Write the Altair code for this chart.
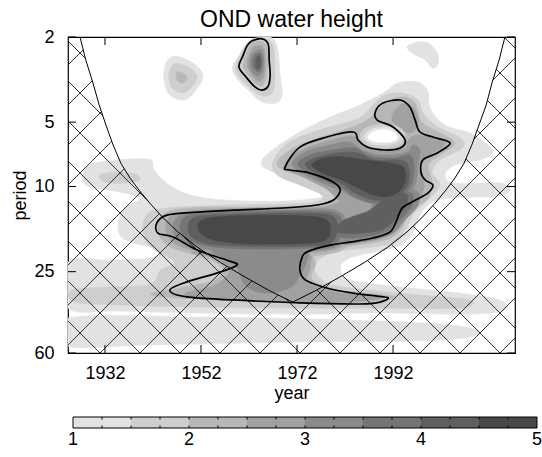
import numpy as np
import pandas as pd
import altair as alt

FONT = "Liberation Sans"
W, H = 447, 316
YEAR_MIN, YEAR_MAX = 1924.3, 2017.4
PER_MIN, PER_MAX = 2, 60

year_ticks = [1932, 1952, 1972, 1992]
period_ticks = [2, 5, 10, 25, 60]
cbar_labels = [1, 2, 3, 4, 5]
cbar_bounds = [1, 1.5, 2, 2.5, 3, 3.5, 4, 4.5, 5]
greys = ["#e2e2e2", "#cecece", "#b7b7b7", "#a1a1a1", "#8b8b8b", "#757575", "#5f5f5f", "#484848"]

# ---- filled power contours, vertices as (year, period) ----
main_l1 = [(1927.4, 8.83), (1929.9, 7.77), (1940.8, 7.44), (1942.2, 8.37), (1945.1, 9.73), (1950.1, 11.0),
           (1958.0, 11.6), (1968.5, 11.7), (1976.4, 11.3), (1978.2, 10.7), (1975.8, 9.94), (1970.5, 9.12),
           (1965.3, 8.19), (1964.7, 7.52), (1967.4, 6.61), (1972.6, 5.56), (1978.9, 4.73), (1985.1, 4.16),
           (1990.3, 3.61), (1993.0, 3.28), (1997.2, 3.25), (1999.3, 3.61), (1999.7, 4.29), (2002.8, 5.16),
           (2008.0, 5.62), (2011.2, 6.26), (2012.8, 6.90), (2010.1, 7.52), (2004.9, 7.93), (2002.8, 8.83),
           (2004.9, 9.63), (2014.3, 9.63), (2016.4, 10.4), (2013.3, 11.1), (2003.9, 11.3), (1999.7, 12.0),
           (1997.6, 13.6), (1996.2, 16.3), (1993.5, 18.8), (1988.3, 20.2), (1983.0, 21.6), (1981.0, 24.0),
           (1983.0, 27.3), (1993.5, 29.5), (2006.0, 31.5), (2014.3, 33.9), (2015.3, 37.8), (2008.0, 39.5),
           (1989.3, 39.0), (1972.6, 39.5), (1951.8, 39.0), (1935.1, 38.2), (1924.3, 37.0), (1924.3, 22.6),
           (1933.0, 22.1), (1941.4, 21.6), (1943.5, 19.8), (1936.2, 17.8), (1934.7, 15.1), (1936.2, 12.6),
           (1939.3, 11.3), (1933.0, 10.4), (1928.3, 9.94)]
bottom_l1 = [(1924.3, 41.2), (1951.8, 40.8), (1983.0, 42.1), (2003.9, 44.4), (2010.1, 48.4), (2001.8, 52.2),
             (1972.6, 53.3), (1941.4, 55.0), (1924.3, 55.6)]
blob_a_l1 = [(1946.6, 2.46), (1950.1, 2.62), (1952.4, 3.01), (1951.0, 3.54), (1948.5, 3.94), (1945.5, 3.73),
             (1944.3, 3.18), (1944.7, 2.65)]
blob_b_l1 = [(1963.9, 2.02), (1966.8, 2.02), (1968.0, 2.30), (1968.5, 3.01), (1968.9, 3.73), (1967.6, 4.07),
             (1964.7, 4.02), (1962.2, 3.61), (1959.7, 3.18), (1958.5, 2.79), (1960.1, 2.43), (1962.2, 2.16)]
blob_c_l1 = [(1994.9, 2.23), (1997.2, 2.11), (1999.7, 2.16), (2001.4, 2.43), (2001.2, 2.73), (2000.1, 2.79),
             (1998.7, 2.56), (1996.6, 2.43)]

main_l2 = [(1966.8, 7.93), (1969.5, 6.40), (1974.7, 5.62), (1981.0, 5.10), (1985.1, 4.78), (1987.2, 4.29),
           (1989.9, 3.77), (1993.9, 3.65), (1997.2, 3.94), (1998.5, 4.63), (2001.8, 5.33), (2006.0, 5.93),
           (2006.4, 6.61), (2001.8, 7.52), (2000.1, 8.56), (2001.8, 9.84), (1999.7, 11.3), (1996.6, 13.2),
           (1994.5, 16.0), (1992.4, 18.2), (1986.2, 19.4), (1979.9, 20.2), (1976.4, 22.1), (1975.8, 25.1),
           (1978.9, 28.6), (1987.2, 30.5), (1997.6, 32.1), (2008.0, 33.9), (2006.0, 37.0), (1989.3, 37.0),
           (1972.6, 37.0), (1951.8, 36.6), (1935.1, 35.8), (1925.7, 34.7), (1925.1, 30.5), (1933.0, 29.5),
           (1941.4, 28.6), (1943.5, 24.6), (1946.6, 22.6), (1942.4, 19.8), (1940.3, 17.8), (1939.9, 15.1),
           (1941.4, 13.1), (1946.6, 12.5), (1958.0, 12.2), (1968.5, 12.1), (1975.8, 11.8), (1977.2, 11.0),
           (1972.6, 9.84), (1968.5, 9.03)]
left_l2 = [(1930.9, 8.83), (1934.1, 8.56), (1938.2, 8.74), (1939.3, 9.32), (1936.2, 9.63), (1932.0, 9.52)]
blob_a_l2 = [(1946.8, 2.65), (1949.7, 2.79), (1951.2, 3.08), (1949.9, 3.46), (1948.0, 3.65), (1946.0, 3.46),
             (1945.3, 3.04), (1945.8, 2.76)]
blob_b_l2 = [(1962.2, 2.07), (1965.3, 2.02), (1967.0, 2.20), (1967.4, 2.85), (1967.0, 3.61), (1964.7, 3.77),
             (1962.2, 3.46), (1959.3, 2.91), (1960.1, 2.43)]

upper_l3 = [(1968.0, 8.02), (1970.5, 6.75), (1976.4, 5.93), (1983.0, 5.33), (1987.2, 4.78), (1990.3, 4.07),
            (1993.9, 3.81), (1996.6, 4.07), (1998.0, 5.00), (2001.8, 5.62), (2004.9, 6.26), (2001.8, 7.12),
            (1999.3, 7.93), (2000.1, 9.52), (1999.3, 11.3), (1995.5, 13.2), (1993.5, 16.0), (1990.3, 17.8),
            (1983.0, 19.0), (1978.9, 19.4), (1976.8, 16.0), (1979.9, 12.2), (1978.9, 10.6), (1974.7, 9.32)]
band_l3 = [(1943.0, 16.0), (1944.1, 13.5), (1949.7, 12.6), (1964.3, 12.5), (1975.8, 12.2), (1979.9, 11.6),
           (1983.0, 13.6), (1982.5, 18.8), (1976.8, 20.9), (1964.3, 21.4), (1951.8, 20.9), (1945.1, 18.8)]
lower_l3 = [(1947.6, 19.4), (1958.0, 19.8), (1972.6, 19.8), (1975.8, 22.6), (1975.1, 27.3), (1981.0, 30.5),
            (1992.4, 32.8), (1983.0, 35.0), (1962.2, 34.3), (1947.6, 33.2), (1941.4, 31.8), (1947.6, 29.8),
            (1954.9, 27.3), (1956.0, 23.3)]
blob_a_l3 = [(1947.0, 2.91), (1948.5, 2.98), (1949.1, 3.14), (1948.0, 3.28), (1947.0, 3.18)]
blob_b_l3 = [(1962.8, 2.13), (1964.9, 2.11), (1965.8, 2.30), (1965.8, 2.85), (1965.1, 3.32), (1963.7, 3.35),
             (1962.0, 3.04), (1960.8, 2.73), (1961.6, 2.35)]

upper_l4 = [(1969.5, 8.02), (1972.2, 6.90), (1977.8, 6.19), (1983.5, 5.80), (1985.5, 6.26), (1989.3, 6.75),
            (1994.5, 6.61), (1995.1, 6.06), (1997.6, 5.74), (2002.8, 6.26), (1999.7, 7.12), (1997.6, 7.93),
            (1998.5, 9.84), (1997.2, 11.6), (1994.5, 13.6), (1992.4, 16.3), (1987.2, 17.8), (1981.0, 18.6),
            (1979.9, 15.1), (1981.0, 12.2), (1978.5, 10.4), (1973.7, 9.12)]
band_l4 = [(1944.7, 16.0), (1946.0, 13.6), (1951.8, 12.9), (1964.3, 12.6), (1976.8, 12.5), (1981.0, 12.0),
           (1982.5, 14.3), (1982.0, 18.4), (1976.8, 20.2), (1964.3, 20.7), (1952.8, 20.2), (1946.8, 18.6)]
lobe_l4 = [(1992.4, 4.39), (1994.5, 4.07), (1996.6, 4.39), (1997.2, 5.16), (1995.5, 5.62), (1993.5, 5.33),
           (1991.8, 4.89)]
lower_l4 = [(1950.8, 20.2), (1972.6, 20.2), (1974.7, 23.3), (1974.3, 27.9), (1979.9, 31.1), (1989.3, 33.2),
            (1978.9, 35.0), (1962.2, 34.3), (1951.8, 33.2), (1948.7, 31.5), (1954.9, 28.9), (1958.0, 24.6),
            (1954.9, 21.6)]
blob_b_l4 = [(1963.0, 2.23), (1964.7, 2.20), (1965.3, 2.43), (1965.3, 2.85), (1964.7, 3.18), (1963.5, 3.18),
             (1962.2, 2.91), (1961.6, 2.65), (1962.2, 2.38)]

upper_l5 = [(1971.0, 7.93), (1973.7, 6.90), (1978.9, 6.40), (1983.0, 6.19), (1985.5, 6.75), (1989.3, 7.12),
            (1994.5, 6.97), (1996.2, 6.40), (1997.6, 6.75), (1997.2, 7.93), (1996.6, 9.84), (1994.5, 11.6),
            (1990.3, 12.2), (1985.1, 11.6), (1981.0, 10.4), (1975.8, 9.32)]
band_l5 = [(1946.2, 15.6), (1948.0, 13.6), (1956.0, 13.0), (1968.5, 12.9), (1979.3, 12.8), (1982.2, 14.6),
           (1981.0, 18.4), (1976.8, 19.8), (1966.4, 20.2), (1956.0, 20.0), (1948.2, 18.4)]
link_l5 = [(1989.3, 11.0), (1996.6, 10.4), (1997.2, 12.2), (1994.5, 14.3), (1991.4, 16.8), (1985.1, 18.2),
           (1978.9, 18.2), (1979.9, 15.1), (1986.2, 13.6)]
lower_l5 = [(1954.9, 19.8), (1972.6, 19.8), (1973.9, 22.6), (1972.6, 25.9), (1970.5, 29.8), (1965.3, 31.5),
            (1961.2, 28.9), (1959.1, 23.3)]
blob_b_l5 = [(1963.3, 2.33), (1964.5, 2.30), (1965.1, 2.51), (1964.9, 2.85), (1964.1, 3.04), (1963.0, 2.98),
             (1962.2, 2.73), (1962.4, 2.48)]

upper_l6 = [(1972.2, 7.93), (1974.7, 7.12), (1979.5, 6.75), (1984.1, 6.61), (1987.2, 7.20), (1992.4, 7.36),
            (1995.5, 7.12), (1996.4, 8.19), (1995.5, 10.16), (1992.4, 11.6), (1988.3, 12.0), (1984.1, 11.2),
            (1981.0, 10.05), (1976.4, 9.12)]
band_l6 = [(1947.6, 15.6), (1949.3, 13.7), (1957.0, 13.2), (1968.5, 13.0), (1979.3, 13.2), (1981.4, 15.1),
           (1979.9, 18.6), (1974.7, 19.4), (1964.3, 19.6), (1954.9, 19.2), (1949.3, 17.8)]
link_l6 = [(1990.3, 11.0), (1995.5, 10.6), (1996.0, 12.2), (1993.5, 14.3), (1990.3, 16.3), (1984.1, 17.4),
           (1979.9, 16.8), (1981.0, 14.6), (1986.8, 13.2)]
blob_b_l6 = [(1963.5, 2.40), (1964.5, 2.40), (1964.7, 2.62), (1964.5, 2.85), (1963.7, 2.91), (1962.8, 2.73),
             (1962.8, 2.53)]

upper_l7 = [(1973.7, 7.93), (1976.4, 7.28), (1980.5, 6.97), (1984.7, 6.97), (1988.3, 7.52), (1993.0, 7.52),
            (1995.1, 7.93), (1995.1, 9.84), (1992.4, 11.2), (1988.3, 11.6), (1984.1, 10.7), (1981.0, 9.63),
            (1977.2, 8.93)]
band_l7 = [(1949.3, 15.6), (1950.8, 13.9), (1958.0, 13.5), (1970.5, 13.3), (1978.9, 13.6), (1980.3, 15.6),
           (1978.9, 18.4), (1972.6, 19.0), (1962.2, 19.0), (1953.9, 18.6), (1950.3, 17.4)]
link_l7 = [(1991.0, 11.1), (1994.7, 10.8), (1994.7, 12.3), (1992.4, 14.3), (1989.3, 16.0), (1983.0, 16.6),
           (1979.9, 16.0), (1982.0, 14.3), (1987.2, 12.9)]
blob_b_l7 = [(1963.7, 2.48), (1964.3, 2.48), (1964.5, 2.67), (1964.1, 2.82), (1963.5, 2.79), (1963.3, 2.62)]

upper_l8 = [(1975.1, 7.93), (1977.8, 7.36), (1982.0, 7.28), (1986.2, 7.52), (1991.4, 7.77), (1994.3, 8.19),
            (1994.3, 9.84), (1991.8, 11.0), (1988.3, 11.0), (1984.7, 10.16), (1981.4, 9.32), (1977.8, 8.74)]
band_l8 = [(1951.4, 15.6), (1952.8, 14.2), (1960.1, 13.7), (1972.6, 13.7), (1977.8, 14.2), (1978.9, 16.0),
           (1977.2, 18.0), (1968.5, 18.6), (1959.1, 18.4), (1953.3, 17.4)]

# low-power pocket inside the upper cluster
pocket_l2 = [(1985.1, 5.74), (1986.8, 5.27), (1990.3, 5.10), (1993.5, 5.33), (1994.5, 5.87), (1993.0, 6.47),
             (1989.3, 6.61), (1986.2, 6.33)]
pocket_l1 = [(1986.0, 5.80), (1987.6, 5.38), (1990.5, 5.27), (1993.0, 5.50), (1993.7, 5.87), (1992.4, 6.26),
             (1989.3, 6.40), (1986.8, 6.19)]
pocket_l0 = [(1986.8, 5.80), (1988.3, 5.50), (1991.0, 5.44), (1992.6, 5.68), (1992.8, 5.99), (1991.4, 6.19),
             (1988.9, 6.19), (1987.2, 6.06)]

fills = [
    (main_l1, 1), (bottom_l1, 1), (blob_a_l1, 1), (blob_b_l1, 1), (blob_c_l1, 1),
    (main_l2, 2), (left_l2, 2), (blob_a_l2, 2), (blob_b_l2, 2),
    (upper_l3, 3), (band_l3, 3), (lower_l3, 3), (blob_a_l3, 3), (blob_b_l3, 3),
    (upper_l4, 4), (band_l4, 4), (lobe_l4, 4), (lower_l4, 4), (blob_b_l4, 4),
    (upper_l5, 5), (band_l5, 5), (link_l5, 5), (lower_l5, 5), (blob_b_l5, 5),
    (upper_l6, 6), (band_l6, 6), (link_l6, 6), (blob_b_l6, 6),
    (upper_l7, 7), (band_l7, 7), (link_l7, 7), (blob_b_l7, 7),
    (upper_l8, 8), (band_l8, 8),
    (pocket_l2, 2), (pocket_l1, 1), (pocket_l0, 0),
]

# ---- significance contours ----
sig_short = [(1962.6, 2.09), (1964.7, 2.04), (1966.0, 2.16), (1966.2, 2.56), (1966.4, 3.01), (1966.0, 3.39),
             (1964.7, 3.54), (1963.3, 3.43), (1961.4, 3.08), (1959.9, 2.76), (1960.8, 2.43), (1961.6, 2.20)]
sig_main = [(1969.5, 8.11), (1972.6, 6.54), (1978.2, 5.87), (1983.7, 5.56), (1984.7, 6.06), (1986.6, 6.54),
            (1990.3, 6.75), (1993.5, 6.61), (1994.5, 6.06), (1992.0, 5.27), (1988.7, 4.89), (1988.3, 4.48),
            (1989.9, 4.07), (1993.5, 3.94), (1995.5, 4.25), (1996.6, 4.89), (1997.6, 5.56), (2000.3, 5.87),
            (2003.9, 6.26), (2001.2, 6.97), (1998.2, 7.52), (1997.8, 8.56), (1998.7, 9.32), (2000.3, 9.84),
            (1999.3, 10.7), (1996.6, 11.6), (1993.9, 12.6), (1992.8, 14.3), (1991.4, 16.3), (1987.8, 17.4),
            (1983.0, 18.2), (1978.9, 18.8), (1974.1, 20.2), (1973.0, 21.6), (1972.6, 24.6), (1973.7, 27.3),
            (1978.2, 29.8), (1983.7, 31.5), (1988.7, 32.5), (1991.0, 33.2), (1989.3, 34.7), (1985.1, 35.4),
            (1972.6, 35.0), (1958.7, 33.9), (1949.1, 32.8), (1945.5, 30.5), (1949.1, 27.9), (1955.3, 25.4),
            (1959.5, 23.3), (1957.4, 22.1), (1951.2, 19.8), (1946.2, 17.2), (1943.0, 16.5), (1942.8, 14.8),
            (1944.9, 13.6), (1950.3, 13.2), (1958.7, 12.9), (1969.1, 12.6), (1976.2, 12.2), (1979.5, 11.6),
            (1981.0, 10.4), (1979.5, 9.52), (1974.7, 8.65), (1970.5, 8.37)]

# ---- cone of influence ----
coi_year = [1926.8, 1928.0, 1929.5, 1930.8, 1932.2, 1933.7, 1935.3, 1937.2, 1939.1, 1941.4, 1944.1,
            1947.2, 1951.2, 1956.0, 1961.2, 1966.4, 1971.1, 1975.7, 1980.9, 1986.1, 1990.9, 1994.9,
            1998.0, 2000.7, 2003.0, 2004.9, 2006.8, 2008.4, 2009.9, 2011.4, 2012.6, 2014.1, 2015.3]
coi_period = [2.00, 2.56, 3.28, 4.16, 5.16, 6.40, 7.77, 9.12, 10.4, 12.0, 14.0, 16.3, 19.2, 22.6, 26.5,
              30.8, 34.7, 30.8, 26.5, 22.6, 19.2, 16.3, 14.0, 12.0, 10.4, 9.12, 7.77, 6.40, 5.16, 4.16,
              3.28, 2.56, 2.00]

# ---- cross-hatching outside the cone of influence (45 degree lattice in screen space) ----
HATCH_STEP, HATCH_PHASE = 40, 32


def to_u(year):
    return (np.asarray(year, float) - YEAR_MIN) / (YEAR_MAX - YEAR_MIN) * W


def to_v(period):
    return np.log(np.asarray(period, float) / PER_MIN) / np.log(PER_MAX / PER_MIN) * H


def from_u(u):
    return YEAR_MIN + u / W * (YEAR_MAX - YEAR_MIN)


def from_v(v):
    return PER_MIN * (PER_MAX / PER_MIN) ** (v / H)


cu, cv = to_u(coi_year), to_v(coi_period)
srt = np.argsort(cu, kind="stable")
us = np.arange(0.0, W + 0.125, 0.25)
limit = np.interp(us, cu[srt], cv[srt], left=-1.0, right=-1.0)
segments = []
for s in (1, -1):
    for k in range(-30, 40):
        c = HATCH_PHASE + s * H + HATCH_STEP * k
        v = s * (c - us)
        mask = (v >= 0) & (v <= H) & (v > limit)
        if not mask.any():
            continue
        edges = np.flatnonzero(np.diff(np.r_[0, mask.astype(int), 0])).reshape(-1, 2)
        for a, b in edges:
            b -= 1
            if us[b] - us[a] < 0.5:
                continue
            segments.append((from_u(us[a]), from_v(v[a]), from_u(us[b]), from_v(v[b])))
hatch = pd.DataFrame(segments, columns=["year", "period", "year2", "period2"])


def frame(verts):
    return pd.DataFrame({"i": np.arange(len(verts)),
                         "year": [p[0] for p in verts],
                         "period": [p[1] for p in verts]})


x_scale = alt.Scale(domain=[YEAR_MIN, YEAR_MAX], nice=False, zero=False)
y_scale = alt.Scale(type="log", domain=[PER_MIN, PER_MAX], nice=False, reverse=True)
x_axis = alt.Axis(values=year_ticks, format="d", ticks=False, tickSize=0, domain=False, grid=False,
                  labelFont=FONT, labelFontSize=18, labelColor="black", labelPadding=11, labelFlush=False,
                  title="year", titleFont=FONT, titleFontSize=18, titleFontWeight="normal", titleColor="black",
                  titleX=W / 2, titleY=45, titleAlign="center", titleBaseline="alphabetic")
y_axis = alt.Axis(values=period_ticks, format="d", ticks=False, tickSize=0, domain=False, grid=False,
                  labelFont=FONT, labelFontSize=18, labelColor="black", labelPadding=14, labelFlush=False,
                  title="period", titleFont=FONT, titleFontSize=18, titleFontWeight="normal", titleColor="black",
                  titleX=-43, titleY=H / 2, titleAngle=-90, titleAlign="center", titleBaseline="alphabetic")


def X():
    return alt.X("year:Q", scale=x_scale, axis=x_axis)


def Y():
    return alt.Y("period:Q", scale=y_scale, axis=y_axis)


main_layers = []
for verts, lvl in fills:
    colour = "#ffffff" if lvl == 0 else greys[lvl - 1]
    main_layers.append(
        alt.Chart(frame(verts)).mark_line(interpolate="cardinal-closed", fill=colour, stroke=colour,
                                          strokeWidth=0.6, clip=True)
        .encode(x=X(), y=Y(), order="i:Q"))

main_layers.append(
    alt.Chart(hatch).mark_rule(color="black", strokeWidth=0.8, clip=True)
    .encode(x=X(), y=Y(), x2="year2:Q", y2="period2:Q"))

main_layers.append(
    alt.Chart(frame(list(zip(coi_year, coi_period)))).mark_line(color="black", strokeWidth=1, clip=True)
    .encode(x=X(), y=Y(), order="i:Q"))

for verts in (sig_short, sig_main):
    main_layers.append(
        alt.Chart(frame(verts)).mark_line(interpolate="cardinal-closed", color="black", strokeWidth=1.7, clip=True)
        .encode(x=X(), y=Y(), order="i:Q"))

# inward tick marks on all four sides
xt = pd.DataFrame({"year": year_ticks})
yt = pd.DataFrame({"period": period_ticks})
main_layers += [
    alt.Chart(xt).mark_rule(color="black", strokeWidth=1).encode(x=X(), y=alt.value(H), y2=alt.value(H - 8)),
    alt.Chart(xt).mark_rule(color="black", strokeWidth=1).encode(x=X(), y=alt.value(0), y2=alt.value(8)),
    alt.Chart(yt).mark_rule(color="black", strokeWidth=1).encode(y=Y(), x=alt.value(0), x2=alt.value(8)),
    alt.Chart(yt).mark_rule(color="black", strokeWidth=1).encode(y=Y(), x=alt.value(W), x2=alt.value(W - 8)),
    alt.Chart(pd.DataFrame({"t": ["OND water height"]})).mark_text(
        font=FONT, fontSize=23, align="center", baseline="alphabetic", color="black")
    .encode(text="t:N", x=alt.value(W / 2), y=alt.value(-10)),
]
main = alt.layer(*main_layers)

# colour bar below the plot
cb_scale = alt.Scale(domain=[1, 5], range=[5, 469], nice=False, zero=False)
cb = pd.DataFrame({"lo": cbar_bounds[:-1], "hi": cbar_bounds[1:], "grey": greys})
minor = pd.DataFrame({"v": np.arange(1.25, 5.0, 0.25)})
cbar = alt.layer(
    alt.Chart(cb).mark_rect().encode(
        x=alt.X("lo:Q", scale=cb_scale, axis=None), x2="hi:Q",
        y=alt.value(380), y2=alt.value(391), fill=alt.Fill("grey:N", scale=None)),
    alt.Chart(minor).mark_rule(color="black", strokeWidth=1).encode(
        x=alt.X("v:Q", scale=cb_scale, axis=None), y=alt.value(380), y2=alt.value(382.5)),
    alt.Chart(minor).mark_rule(color="black", strokeWidth=1).encode(
        x=alt.X("v:Q", scale=cb_scale, axis=None), y=alt.value(388.5), y2=alt.value(391)),
    alt.Chart(pd.DataFrame({"lo": [1], "hi": [5]})).mark_rect(filled=False, color="black", strokeWidth=1).encode(
        x=alt.X("lo:Q", scale=cb_scale, axis=None), x2="hi:Q", y=alt.value(380), y2=alt.value(391)),
    alt.Chart(pd.DataFrame({"v": cbar_labels})).mark_text(font=FONT, fontSize=18, baseline="top",
                                                          color="black").encode(
        x=alt.X("v:Q", scale=cb_scale, axis=None), y=alt.value(394), text="v:Q"),
)

chart = (
    alt.layer(main, cbar)
    .resolve_scale(x="independent", y="independent")
    .properties(width=W, height=H, autosize=alt.AutoSizeParams(type="none"),
                padding={"left": 68, "top": 37, "right": 27, "bottom": 104})
    .configure_view(stroke="black", strokeWidth=1.2)
)

chart.save("out.html", embed_options={"renderer": "svg", "actions": False})
